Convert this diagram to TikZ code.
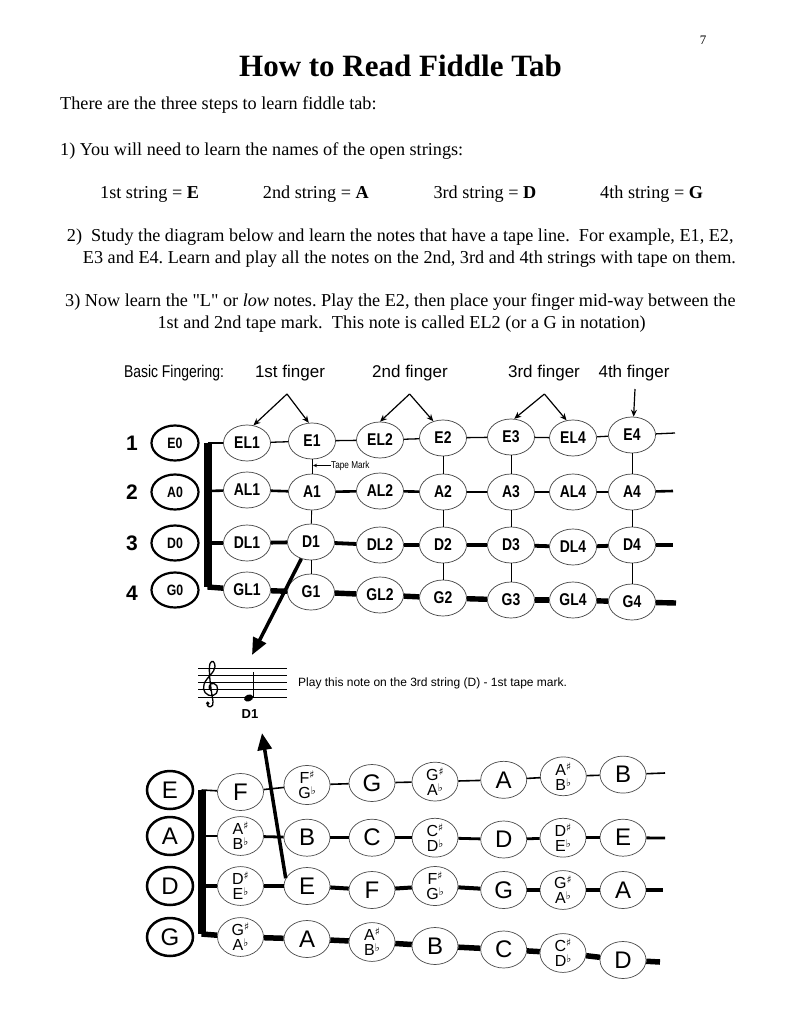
\documentclass[tikz,border=0pt]{standalone}
\usepackage{fontspec}
\setmainfont{Liberation Serif}[Ligatures=TeXOff]
\newfontfamily\arialf{Liberation Sans}
\newfontfamily\narrowf[FakeStretch=0.82]{Liberation Sans}
\newfontfamily\dejavuf{DejaVu Sans}
\usetikzlibrary{shapes.geometric,arrows.meta}
\newcommand\shp{\raisebox{0.3em}{\fontsize{10.5}{10}\selectfont\dejavuf ♯}}
\newcommand\flt{\raisebox{0.25em}{\fontsize{10.5}{10}\selectfont\dejavuf ♭}}
\newcommand\twonote[2]{#1\shp\\#2\flt}
\frenchspacing
\tikzset{
 bodytext/.style={font=\fontsize{18.2}{22}\selectfont, inner sep=0pt, anchor=base west},
 topnote/.style={ellipse, draw=black!75, line width=0.7pt, fill=white, minimum width=47pt, minimum height=36pt, inner sep=0pt, font=\narrowf\bfseries\fontsize{17}{17}\selectfont},
 topopen/.style={ellipse, draw=black, line width=2.2pt, fill=white, minimum width=47pt, minimum height=35pt, inner sep=0pt, font=\narrowf\bfseries\fontsize{15}{15}\selectfont},
 botnote/.style={ellipse, draw=black!70, line width=0.7pt, fill=white, minimum width=46pt, minimum height=37pt, inner sep=0pt, align=center, font=\arialf\fontsize{24}{24}\selectfont},
 twofont/.style={font=\arialf\fontsize{16}{15}\selectfont},
 botopen/.style={ellipse, draw=black, line width=2.5pt, fill=white, minimum width=46pt, minimum height=38pt, inner sep=0pt, font=\arialf\fontsize{24}{24}\selectfont},
 strone/.style={line width=1.3pt},
 strtwo/.style={line width=2.6pt},
 strthree/.style={line width=3.8pt},
 strfour/.style={line width=5.4pt},
 tape/.style={line width=0.9pt},
 fingerarrow/.style={line width=1.2pt, -{Stealth[length=7pt,width=6pt]}},
 bigarrow/.style={line width=3.5pt, -{Triangle[length=17pt,width=14pt]}},
 nut/.style={line width=8pt},
 labeltext/.style={inner sep=0pt, font=\arialf\fontsize{17}{17}\selectfont},
}
\begin{document}
\begin{tikzpicture}[x=1pt,y=-1pt]
\useasboundingbox (0,0) rectangle (800,1035);
\fill[white] (0,0) rectangle (800,1035);

% ---------- text ----------
\node[inner sep=0pt, font=\fontsize{13}{13}\selectfont] (pnum) at (703,40) {7};
\node[inner sep=0pt, anchor=base, font=\bfseries\fontsize{31}{36}\selectfont] (title) at (400.5,77) {How to Read Fiddle Tab};
\node[bodytext] (t1) at (60,110) {There are the three steps to learn fiddle tab:};
\node[bodytext] (t2) at (60,156) {1) You will need to learn the names of the open strings:};
\node[bodytext] (s1) at (100,198.3) {1st string = \textbf{E}};
\node[bodytext] (s2) at (262.7,198.3) {2nd string = \textbf{A}};
\node[bodytext] (s3) at (433.3,198.3) {3rd string = \textbf{D}};
\node[bodytext] (s4) at (600,198.3) {4th string = \textbf{G}};
\node[bodytext] (t3) at (66.7,241.7) {2)\ \ Study the diagram below and learn the notes that have a tape line.\ \ For example, E1, E2,};
\node[bodytext] (t4) at (82.7,263.3) {E3 and E4. Learn and play all the notes on the 2nd, 3rd and 4th strings with tape on them.};
\node[bodytext] (t5) at (65,306.7) {3) Now learn the "L" or \textit{low} notes. Play the E2, then place your finger mid-way between the};
\node[bodytext] (t6) at (157.3,328.3) {1st and 2nd tape mark.\ \ This note is called EL2 (or a G in notation)};

% ---------- fingering labels ----------
\node[inner sep=0pt, font=\narrowf\fontsize{17}{17}\selectfont] (basic) at (174,373) {Basic Fingering:};
\node[labeltext] (f1l) at (290,373) {1st finger};
\node[labeltext] (f2l) at (410,373) {2nd finger};
\node[labeltext] (f3l) at (544,373) {3rd finger};
\node[labeltext] (f4l) at (634,373) {4th finger};
\coordinate (f1) at (287,394);
\coordinate (f2) at (409.6,394);
\coordinate (f3) at (544.4,394);
\coordinate (f4) at (635,389);

% ---------- top diagram ----------
\foreach \n/\y in {1/443,2/492,3/543,4/593}
  \node[inner sep=0pt, font=\arialf\bfseries\fontsize{21}{21}\selectfont] (num\n) at (132,\y) {\n};
\node[topopen] (E0) at (175,443) {E0};
\node[topopen] (A0) at (175,492) {A0};
\node[topopen] (D0) at (175,543) {D0};
\node[topopen] (G0) at (175,590) {G0};

\foreach \n/\x/\y in {EL1/247/443, E1/312/441, EL2/380/440, E2/443/438, E3/511/437, EL4/573/438, E4/632/435,
  AL1/247/490, A1/312/492, AL2/380/491, A2/443/492, A3/511/492, AL4/573/492, A4/632/492,
  DL1/247/543, D1/311/542, DL2/380/545, D2/443/545, D3/511/545, DL4/573/547, D4/632/545,
  GL1/247/590, G1/311/592, GL2/380/595, G2/443/598, G3/511/600, GL4/573/600, G4/632/602}
  \node[topnote] (\n) at (\x,\y) {\n};

\coordinate (b1) at (207.5,443);
\coordinate (b2) at (207.5,491);
\coordinate (b3) at (207.5,543);
\coordinate (b4) at (207.5,587);
\coordinate (e1) at (675,433);
\coordinate (e2) at (673,491);
\coordinate (e3) at (673,545);
\coordinate (e4) at (676,603);

\foreach \a/\b in {b1/EL1, EL1/E1, E1/EL2, EL2/E2, E2/E3, E3/EL4, EL4/E4, E4/e1} \draw[strone] (\a) -- (\b);
\foreach \a/\b in {b2/AL1, AL1/A1, A1/AL2, AL2/A2, A2/A3, A3/AL4, AL4/A4, A4/e2} \draw[strtwo] (\a) -- (\b);
\foreach \a/\b in {b3/DL1, DL1/D1, D1/DL2, DL2/D2, D2/D3, D3/DL4, DL4/D4, D4/e3} \draw[strthree] (\a) -- (\b);
\foreach \a/\b in {b4/GL1, GL1/G1, G1/GL2, GL2/G2, G2/G3, G3/GL4, GL4/G4, G4/e4} \draw[strfour] (\a) -- (\b);
\draw[nut] (b1) -- (b4);

\foreach \c in {1,2,3,4}{
  \draw[tape] (E\c) -- (A\c);
  \draw[tape] (A\c) -- (D\c);
  \draw[tape] (D\c) -- (G\c);
}
% tape mark label
\coordinate (tm) at (313,465.5);
\node[inner sep=0pt, anchor=west, font=\narrowf\fontsize{10}{10}\selectfont] (tapemark) at (331,465.5) {Tape Mark};
\draw[line width=0.7pt, -{Stealth[length=4pt,width=3.5pt]}] (tapemark.west) -- (tm);

% finger arrows
\draw[fingerarrow] (f1) -- (EL1.70);
\draw[fingerarrow] (f1) -- (E1.100);
\draw[fingerarrow] (f2) -- (EL2.90);
\draw[fingerarrow] (f2) -- (E2.120);
\draw[fingerarrow] (f3) -- (E3.80);
\draw[fingerarrow] (f3) -- (EL4.110);
\draw[fingerarrow] (f4) -- (E4.85);

% ---------- staff ----------
\foreach \y in {668.3,675.5,682.7,689.9,697.1}
  \draw[line width=0.9pt] (198,\y) -- (287,\y);
\draw[line width=1.3pt] (211,690.5) .. controls (207,687.5) and (210,682.5) .. (214,683.5)
  .. controls (219,684.5) and (219,694.5) .. (213,695.5)
  .. controls (206,696.5) and (202,690.5) .. (204,684.5)
  .. controls (206,677.5) and (215,672.5) .. (215,666.5)
  .. controls (215,661.5) and (212,659.5) .. (210,663.5)
  .. controls (208,669.5) and (211,689.5) .. (213,701.5)
  .. controls (214,707.5) and (208,708.5) .. (207,704.5);
\fill (207.8,703.3) circle (1.9);
\fill[rotate around={20:(248.6,698)}] (248.6,698) ellipse (4.7 and 3.4);
\draw[line width=1pt] (253,697.5) -- (253,671.5);
\coordinate (notetop) at (252,655);
\node[inner sep=0pt, font=\arialf\bfseries\fontsize{13}{13}\selectfont] (d1lab) at (250,714) {D1};
\node[inner sep=0pt, anchor=west, font=\arialf\fontsize{12}{12}\selectfont] (playtext) at (298,683) {Play this note on the 3rd string (D) - 1st tape mark.};

% ---------- bottom diagram ----------
\node[botopen] (oE) at (170,790) {E};
\node[botopen] (oA) at (170,836) {A};
\node[botopen] (oD) at (170,886) {D};
\node[botopen] (oG) at (170,937) {G};

\node[botnote] (rE1) at (240.5,792) {F};
\node[botnote, twofont] (rE2) at (307,785) {\twonote{F}{G}};
\node[botnote] (rE3) at (372,783) {G};
\node[botnote, twofont] (rE4) at (435,781.6) {\twonote{G}{A}};
\node[botnote] (rE5) at (503.7,779.8) {A};
\node[botnote, twofont] (rE6) at (563.3,776.3) {\twonote{A}{B}};
\node[botnote] (rE7) at (623,774.6) {B};

\node[botnote, twofont] (rA1) at (240.5,836) {\twonote{A}{B}};
\node[botnote] (rA2) at (307,837.7) {B};
\node[botnote] (rA3) at (372,837.7) {C};
\node[botnote, twofont] (rA4) at (435,837.7) {\twonote{C}{D}};
\node[botnote] (rA5) at (503.7,839.5) {D};
\node[botnote, twofont] (rA6) at (563,837.7) {\twonote{D}{E}};
\node[botnote] (rA7) at (623,837.7) {E};

\node[botnote, twofont] (rD1) at (240.5,886) {\twonote{D}{E}};
\node[botnote] (rD2) at (307,886) {E};
\node[botnote] (rD3) at (372,890) {F};
\node[botnote, twofont] (rD4) at (435,886) {\twonote{F}{G}};
\node[botnote] (rD5) at (503.7,890) {G};
\node[botnote, twofont] (rD6) at (563,890) {\twonote{G}{A}};
\node[botnote] (rD7) at (623,890) {A};

\node[botnote, twofont] (rG1) at (240.5,937) {\twonote{G}{A}};
\node[botnote] (rG2) at (307,939) {A};
\node[botnote, twofont] (rG3) at (372,942) {\twonote{A}{B}};
\node[botnote] (rG4) at (435,946) {B};
\node[botnote] (rG5) at (503.7,949.5) {C};
\node[botnote, twofont] (rG6) at (563,953) {\twonote{C}{D}};
\node[botnote] (rG7) at (623,960) {D};

\coordinate (c1) at (201.5,790);
\coordinate (c2) at (201.5,836);
\coordinate (c3) at (201.5,886);
\coordinate (c4) at (201.5,934);
\coordinate (ce1) at (665,773);
\coordinate (ce2) at (665,838);
\coordinate (ce3) at (663,890);
\coordinate (ce4) at (660,962);

\foreach \a/\b in {c1/rE1, rE1/rE2, rE2/rE3, rE3/rE4, rE4/rE5, rE5/rE6, rE6/rE7, rE7/ce1} \draw[line width=1.6pt] (\a) -- (\b);
\foreach \a/\b in {c2/rA1, rA1/rA2, rA2/rA3, rA3/rA4, rA4/rA5, rA5/rA6, rA6/rA7, rA7/ce2} \draw[line width=2.8pt] (\a) -- (\b);
\foreach \a/\b in {c3/rD1, rD1/rD2, rD2/rD3, rD3/rD4, rD4/rD5, rD5/rD6, rD6/rD7, rD7/ce3} \draw[line width=4pt] (\a) -- (\b);
\foreach \a/\b in {c4/rG1, rG1/rG2, rG2/rG3, rG3/rG4, rG4/rG5, rG5/rG6, rG6/rG7, rG7/ce4} \draw[line width=5.5pt] (\a) -- (\b);
\draw[nut] (c1) -- (c4);

% ---------- big arrows ----------
\coordinate (uptip) at (262,733);
\draw[bigarrow] (D1.240) -- (notetop);
\draw[bigarrow] (rD2.160) -- (uptip);
\end{tikzpicture}
\end{document}
